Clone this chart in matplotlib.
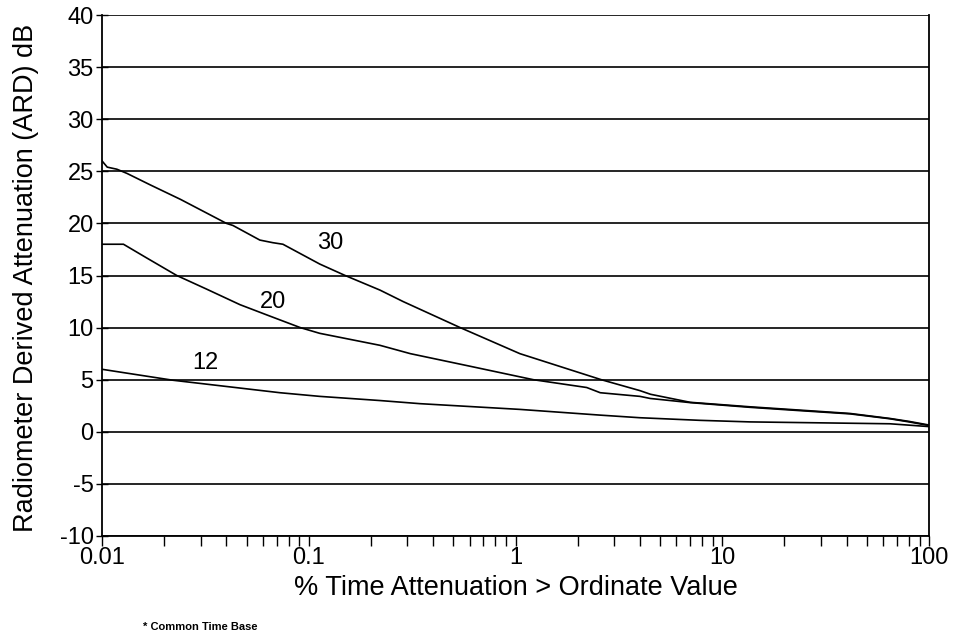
import matplotlib
matplotlib.use("Agg")
import matplotlib.pyplot as plt
from matplotlib.ticker import FixedLocator, FixedFormatter, LogLocator, NullFormatter

plt.rcParams['font.family'] = ['Liberation Sans', 'DejaVu Sans']

# ---- data ----
pct_30 = [0.01, 0.0106, 0.0118, 0.0132, 0.0171, 0.024, 0.040, 0.043, 0.058, 0.067, 0.075,
          0.113, 0.150, 0.221, 0.286, 0.54, 1.05, 2.6, 4.0, 4.5, 7.0, 13.6, 23.8, 41.5, 64.7, 80, 100]
ard_30 = [26.0, 25.4, 25.2, 24.8, 23.7, 22.3, 20.0, 19.8, 18.4, 18.15, 18.0,
          16.1, 15.0, 13.6, 12.5, 10.0, 7.5, 5.0, 3.95, 3.6, 2.83, 2.4, 2.08, 1.76, 1.28, 1.0, 0.65]

pct_20 = [0.01, 0.0127, 0.0164, 0.023, 0.032, 0.0465, 0.063, 0.091, 0.113, 0.221, 0.31, 0.60,
          1.22, 2.21, 2.57, 4.0, 4.48, 7.0, 13.6, 23.8, 41.5, 64.7, 80, 100]
ard_20 = [18.0, 18.0, 16.7, 15.0, 13.7, 12.2, 11.2, 10.0, 9.45, 8.3, 7.5, 6.3,
          5.0, 4.25, 3.75, 3.4, 3.2, 2.8, 2.35, 2.03, 1.72, 1.25, 0.95, 0.6]

pct_12 = [0.01, 0.0127, 0.022, 0.0726, 0.113, 0.221, 0.345, 1.05, 2.57, 4.0, 7.8, 13.6, 64.7, 100]
ard_12 = [6.0, 5.68, 4.95, 3.75, 3.4, 3.0, 2.7, 2.15, 1.6, 1.35, 1.1, 0.95, 0.77, 0.5]

curve_labels = ["30", "20", "12"]
label_pos_x = [0.127, 0.067, 0.0315]
label_pos_y = [18.1, 12.5, 6.6]

y_ticks = [-10, -5, 0, 5, 10, 15, 20, 25, 30, 35, 40]
x_ticks = [0.01, 0.1, 1, 10, 100]
x_ticklabels = ["0.01", "0.1", "1", "10", "100"]

xlabel = "% Time Attenuation > Ordinate Value"
ylabel = "Radiometer Derived Attenuation (ARD) dB"
footnote = "* Common Time Base"

# ---- figure ----
W, H = 957, 636
fig = plt.figure(figsize=(W/100, H/100), dpi=100)
ax = fig.add_axes([102/W, 1-536/H, (929-102)/W, (536-15)/H])

ax.set_xscale('log')
ax.set_xlim(0.01, 100)
ax.set_ylim(-10, 40)

for yv in y_ticks:
    ax.axhline(yv, color='black', lw=1.2, zorder=1)

for px, py in [(pct_30, ard_30), (pct_20, ard_20), (pct_12, ard_12)]:
    ax.plot(px, py, color='black', lw=1.2, zorder=3)

for t, lx, ly in zip(curve_labels, label_pos_x, label_pos_y):
    ax.text(lx, ly, t, ha='center', va='center', fontsize=17, zorder=4)

ax.yaxis.set_major_locator(FixedLocator(y_ticks))
ax.set_yticklabels([str(v) for v in y_ticks], fontsize=17)
ax.tick_params(axis='y', direction='inout', length=8, width=1.0, pad=2)

ax.xaxis.set_major_locator(FixedLocator(x_ticks))
ax.xaxis.set_major_formatter(FixedFormatter(x_ticklabels))
ax.xaxis.set_minor_locator(LogLocator(base=10, subs=range(2, 10)))
ax.xaxis.set_minor_formatter(NullFormatter())
ax.tick_params(axis='x', which='major', direction='out', length=7, width=1.0, labelsize=17, pad=1)
ax.tick_params(axis='x', which='minor', direction='out', length=7, width=1.0)

ax.spines['top'].set_visible(False)
for s in ['left', 'right', 'bottom']:
    ax.spines[s].set_linewidth(1.3)

fig.text(515.5/W, 1-588/H, xlabel, fontsize=19.5, ha='center', va='center')
fig.text(26/W, 1-278/H, ylabel, fontsize=19.5, ha='center', va='center', rotation=90)

fig.text(143/W, 1-627/H, footnote, fontsize=8, fontweight='bold', ha='left', va='center')

fig.savefig("out.png", dpi=100)
